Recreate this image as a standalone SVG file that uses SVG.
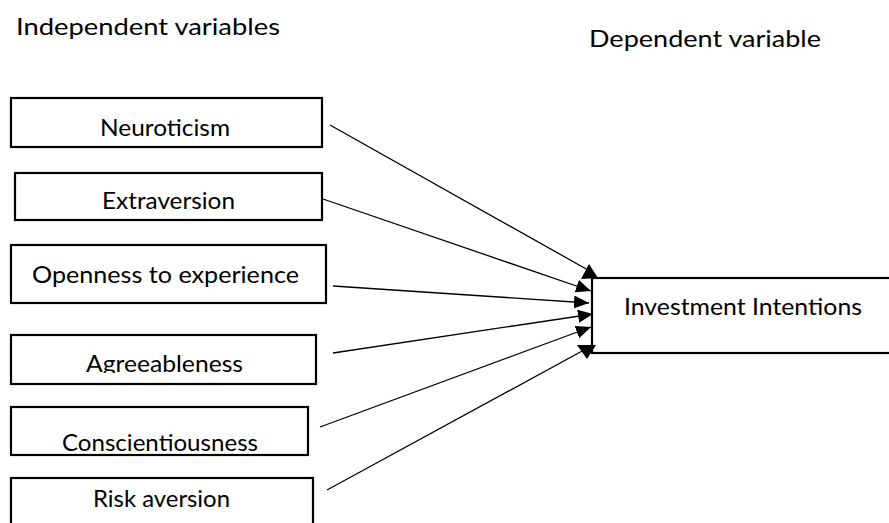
<svg xmlns="http://www.w3.org/2000/svg" width="889" height="523" viewBox="0 0 889 523">
  <style>
    .box { fill: #fff; stroke: #000; stroke-width: 2.2; }
    .lbl { font-family: Lato, "Open Sans", "Liberation Sans", sans-serif; font-size: 24px; fill: #000; }
    .link { stroke: #000; stroke-width: 1.3; fill: none; }
    .head { fill: #000; }
  </style>
  <defs>
    <marker id="arrow" viewBox="0 0 15 13" refX="15" refY="6.5" markerWidth="15" markerHeight="13" markerUnits="userSpaceOnUse" orient="auto">
      <path d="M0,0 L15,6.5 L0,13 Z" class="head"/>
    </marker>
    <clipPath id="agreeClip">
      <rect x="0" y="330" width="330" height="43"/>
    </clipPath>
  </defs>
  <rect width="889" height="523" fill="#fff"/>

  <text class="lbl" x="16" y="35" textLength="264" lengthAdjust="spacingAndGlyphs">Independent variables</text>
  <text class="lbl" x="589" y="47" textLength="232" lengthAdjust="spacingAndGlyphs">Dependent variable</text>

  <g id="neuroticism">
    <rect class="box" x="11" y="98" width="311" height="49"/>
    <text class="lbl" x="100" y="136" textLength="130" lengthAdjust="spacingAndGlyphs">Neuroticism</text>
  </g>
  <g id="extraversion">
    <rect class="box" x="15" y="173" width="307" height="47"/>
    <text class="lbl" x="102" y="209" textLength="133" lengthAdjust="spacingAndGlyphs">Extraversion</text>
  </g>
  <g id="openness">
    <rect class="box" x="11" y="245" width="315" height="58"/>
    <text class="lbl" x="32" y="283" textLength="267" lengthAdjust="spacingAndGlyphs">Openness to experience</text>
  </g>
  <g id="agreeableness">
    <rect class="box" x="11" y="335" width="305" height="49"/>
    <text class="lbl" x="86" y="372" textLength="157" lengthAdjust="spacingAndGlyphs" clip-path="url(#agreeClip)">Agreeableness</text>
  </g>
  <g id="conscientiousness">
    <rect class="box" x="11" y="407" width="297" height="48"/>
    <text class="lbl" x="62" y="451" textLength="196" lengthAdjust="spacingAndGlyphs">Conscientiousness</text>
  </g>
  <g id="risk-aversion">
    <rect class="box" x="11" y="478" width="302" height="60"/>
    <text class="lbl" x="93" y="507" textLength="137" lengthAdjust="spacingAndGlyphs">Risk aversion</text>
  </g>
  <g id="investment-intentions">
    <rect class="box" x="592" y="278" width="310" height="75"/>
    <text class="lbl" x="624" y="315" textLength="238" lengthAdjust="spacingAndGlyphs">Investment Intentions</text>
  </g>

  <g id="connectors">
    <line class="link" x1="330" y1="125" x2="588" y2="270"/>
    <polygon class="head" points="589,264 581,279 598,278"/>
    <line class="link" x1="323" y1="199" x2="591" y2="291" marker-end="url(#arrow)"/>
    <line class="link" x1="333" y1="286" x2="589" y2="303" marker-end="url(#arrow)"/>
    <line class="link" x1="333" y1="353" x2="593" y2="314" marker-end="url(#arrow)"/>
    <line class="link" x1="320" y1="427" x2="591" y2="327" marker-end="url(#arrow)"/>
    <line class="link" x1="327" y1="490" x2="584" y2="350"/>
    <polygon class="head" points="577,345 596,345 587,359"/>
  </g>
</svg>
